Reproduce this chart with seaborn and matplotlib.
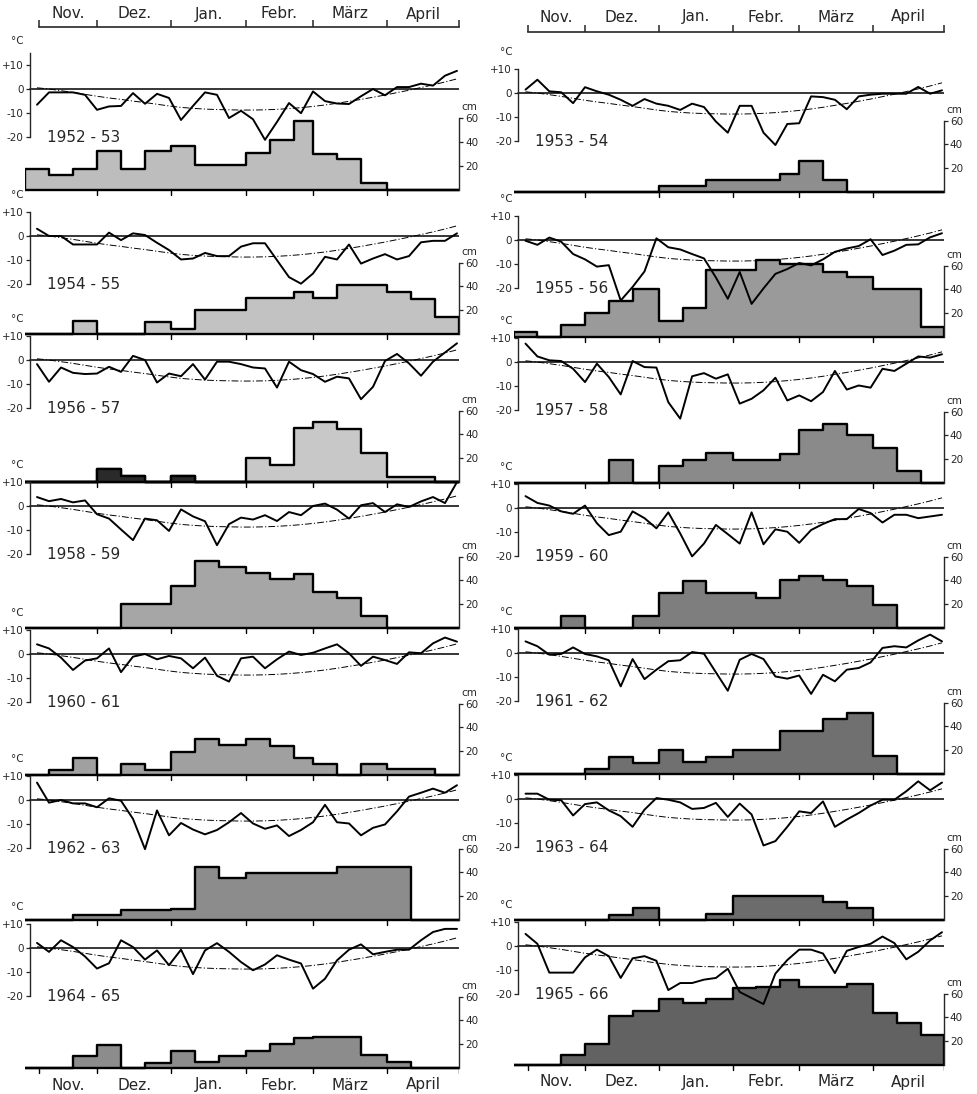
import matplotlib
matplotlib.use("Agg")
import matplotlib.pyplot as plt
import seaborn as sns
import numpy as np

sns.set_style("ticks")
plt.rcParams["font.family"] = ["DejaVu Sans"]

# ---------------------------------------------------------------- data
MONTHS = ["Nov.", "Dez.", "Jan.", "Febr.", "März", "April"]
MONTH_DAYS = [0, 30, 61, 92, 120, 151, 181]          # day 0 = 1 Nov
DEKAD_EDGES = [0, 10, 20, 30, 40, 50, 61, 71, 81, 92, 102, 112,
               120, 130, 140, 151, 161, 171, 181]
PENTAD_DAYS = [5, 10, 15, 20, 25, 30, 35, 40, 45, 50, 55, 60,
               65, 70, 75, 80, 85, 90, 95, 100, 105, 110, 115, 120,
               125, 130, 135, 140, 145, 150, 155, 160, 165, 170, 175, 180]

MEAN_TEMP = [0.5, 0, -0.7, -1.4, -2.2, -3, -3.7, -4.3, -5, -5.6, -6.3, -7,
             -7.6, -8.0, -8.3, -8.5, -8.6, -8.7, -8.7, -8.6, -8.4, -8.1, -7.7, -7.2,
             -6.6, -5.9, -5.1, -4.3, -3.4, -2.5, -1.5, -0.5, 0.6, 1.7, 2.9, 4.2]

T_1952_53 = [-6.5, -1.4, -1.4, -1.4, -2.4, -8.6, -7.2, -7, -1.7, -6.1, -2, -3.7,
             -12.8, -7, -1.4, -2.4, -12, -9, -12.5, -21, -13.6, -5.8, -10, -1,
             -5, -6, -6.2, -3, 0, -2.6, 0.8, 0.8, 2.2, 1.4, 5.5, 7.5]
S_1952_53 = [17, 12.6, 17, 32, 17, 32, 36.7, 21, 21, 31, 41.5, 57.4, 30, 25.5, 5.3, 0, 0, 0]

T_1953_54 = [1.4, 5.5, 0.7, 0.3, -4.2, 2.4, 0.7, -0.7, -2.8, -5.3, -2.5, -4.4,
             -5.3, -7, -4.4, -5.8, -11.8, -16.4, -5.3, -5.3, -16.4, -21.5, -12.8, -12.5,
             -1.4, -1.7, -2.8, -6.7, -1.4, -0.7, -0.3, -0.3, -0.3, 2.5, -0.3, 1.1]
S_1953_54 = [0, 0, 0, 0, 0, 0, 4.9, 4.9, 9.7, 9.7, 9.7, 15, 25.7, 9.7, 0, 0, 0, 0]

T_1954_55 = [3, 0, 0, -3.5, -3.5, -3.5, 1.4, -1.7, 1.1, 0.4, -2.8, -5.8,
             -9.7, -9.3, -7, -8.3, -8.3, -4.4, -3, -3, -10, -17, -19.7, -15.5,
             -8.6, -9.7, -3.5, -11.4, -9.3, -7.5, -9.7, -8.3, -2.6, -2, -2, 1.1]
S_1954_55 = [0, 0, 11, 0, 0, 10, 4.3, 20, 20, 30, 30, 35, 30, 41, 41, 35, 29, 14]

T_1955_56 = [-0.3, -2, 1, -0.7, -5.8, -8, -11, -10.4, -25, -19.4, -13, 0.7,
             -3, -3.9, -5.8, -7.6, -15.5, -24.3, -13.2, -26.4, -20, -14, -12, -9.5,
             -10.5, -8, -4.9, -3.5, -2.5, 0.3, -6.2, -4.4, -2, -1.8, 1.1, 2.8]
S_1955_56 = [4.3, 0, 10, 20, 30, 40.6, 13.7, 24, 56, 56, 65, 61, 61, 55, 50.6, 40.6, 40.6, 8.6]

T_1956_57 = [-1.7, -9.0, -3.1, -5.3, -5.8, -5.6, -2.8, -4.9, 1.7, 0, -9.3, -5.6,
             -6.7, -1.7, -8.1, -0.7, -0.7, -1.7, -3.1, -3.5, -11.4, -0.7, -4.2, -5.8,
             -9.0, -6.9, -7.6, -16.2, -11.1, -0.4, 2.5, -1.4, -6.5, -0.7, 3.1, 6.9]
S_1956_57 = [0, 0, 0, 11, 5, 0, 5, 0, 0, 20.4, 14.5, 45.5, 50.3, 44.7, 24.3, 4.2, 4.2, 0]

T_1957_58 = [7.6, 2.3, 0.7, 0.4, -2.8, -8.3, -0.7, -6.2, -13.4, 0.4, -2.1, -2.3,
             -16.6, -23.4, -5.9, -4.6, -6.9, -5.1, -17.2, -15.2, -11.7, -6.5, -15.9, -13.8,
             -16.2, -12.4, -3.7, -11.4, -9.7, -10.6, -2.8, -3.7, -0.7, 2.3, 1.8, 3.2]
S_1957_58 = [0, 0, 0, 0, 19.3, 0, 14.4, 19.3, 24.9, 19.3, 19.3, 24.3, 44.8, 49.2, 40, 29.8, 9.7, 0]

T_1958_59 = [3.7, 2, 2.9, 1.5, 2.3, -3.4, -5.2, -9.7, -14.1, -5.2, -5.9, -10.3,
             -1.4, -4.3, -6.3, -16.2, -7.5, -4.8, -5.6, -3.8, -6.2, -2.5, -3.8, 0,
             1, -1.5, -5.2, 0.3, 1.2, -2.5, 0.7, -0.4, 1.9, 3.7, 1.2, 9.9]
S_1958_59 = [0, 0, 0, 0, 20, 20, 35.2, 56.6, 51, 46, 41, 45, 30, 24.8, 9.9, 0, 0, 0]

T_1959_60 = [4.9, 2.1, 1, -1.4, -2.4, 1, -6.3, -11.2, -9.8, -1.4, -4.2, -8.4,
             -1.8, -10.5, -20, -14.7, -7, -10.8, -14.7, -1.8, -15, -8.8, -9.8, -14.4,
             -9.1, -6.6, -4.6, -4.6, -0.4, -2.1, -6, -2.8, -2.8, -4.2, -3.5, -2.8]
S_1959_60 = [0, 0, 10.2, 0, 0, 9.7, 29, 39.5, 29.5, 29.5, 24.9, 40, 43.6, 40, 35, 19.3, 0, 0]

T_1960_61 = [4.0, 2.3, -1.5, -6.6, -2.7, -1.8, 2.3, -7.5, -1.1, 0, -2.2, -0.8,
             -1.8, -5.9, -1.5, -9.0, -11.4, -1.8, -1.1, -5.9, -2.2, 1, -0.4, 0.5,
             2.3, 4.0, 0.3, -4.9, -1.1, -2.5, -4.1, 0.7, 0.3, 4.4, 6.8, 5.1]
S_1960_61 = [0, 4.1, 14.4, 0, 9, 4.1, 19.6, 30, 25, 30, 24.5, 14.4, 9.5, 0, 9.5, 4.9, 4.9, 0]

T_1961_62 = [4.8, 2.8, -0.7, -0.4, 2.3, -0.4, -1.4, -3, -13.8, -2.5, -10.8, -6.9,
             -3.4, -3, 0.4, -0.3, -8, -15.6, -2.8, -0.4, -2.5, -9.7, -10.6, -9.3,
             -16.9, -9, -11.7, -6.9, -6.2, -3.9, 2.1, 2.8, 2.3, 5.2, 7.6, 4.8]
S_1961_62 = [0, 0, 0, 4.2, 14.4, 9.4, 20, 9.7, 14.4, 20, 20, 35.8, 35.8, 45.8, 51, 15, 0, 0]

T_1962_63 = [7.2, -1.1, 0, -1.4, -1.4, -3, 0.7, -0.3, -7.8, -20.3, -4.3, -14.6,
             -9.5, -12.2, -14.2, -12.4, -9.2, -5.4, -9.7, -11.9, -10.5, -14.9, -12.4, -9.2,
             -2, -9.2, -9.7, -14.6, -11.5, -10.1, -4.7, 1.4, 3, 4.7, 3, 6.1]
S_1962_63 = [0, 0, 4.2, 4.2, 8.4, 8.4, 8.9, 44.7, 35, 39.7, 39.7, 39.7, 39.7, 44.7, 44.7, 44.7, 0, 0]

T_1963_64 = [2.2, 2.2, -0.3, -0.5, -6.8, -2.1, -1.4, -4.7, -7.1, -11.5, -4.4, 0.4,
             -0.3, -1.4, -4.1, -3.7, -1.6, -7.4, -1.9, -6.4, -19.2, -17.4, -11.5, -5.1,
             -5.8, -1, -11.5, -8.5, -5.8, -2.7, -0.3, -0.3, 3.2, 7.3, 3.6, 6.8]
S_1963_64 = [0, 0, 0, 0, 4.6, 10, 0, 0, 4.9, 20, 20, 20, 20, 14.9, 10.3, 0, 0, 0]

T_1964_65 = [2.1, -1.6, 3.2, 0.4, -3.5, -8.5, -6.3, 3.2, 0.4, -4.8, -1, -7.1,
             -0.7, -10.8, -1, 2, -1.6, -5.8, -9.2, -6.8, -3, -4.8, -6.4, -16.8,
             -12.7, -5.1, -0.7, 1.5, -2.6, -1.6, -0.7, -0.7, 3.2, 6.6, 7.9, 7.9]
S_1964_65 = [0, 0, 10.4, 19.6, 0, 4.6, 14.4, 4.9, 10.4, 14.4, 19.9, 25, 25.9, 25.9, 10.9, 4.9, 0, 0]

T_1965_66 = [5, 0.9, -11, -11, -11, -4.7, -1.5, -4.2, -13.2, -5.1, -4.2, -6.1,
             -18.2, -15.3, -15.3, -13.9, -13.2, -9.4, -19, -21.5, -24, -11.4, -5.8, -1.5,
             -1.5, -3.1, -11.2, -2, -0.4, 0.9, 3.9, 1.2, -5.5, -2.4, 2.3, 5.7]
S_1965_66 = [0, 0, 8.8, 18, 41.4, 45.6, 55.8, 51.7, 55.8, 64.4, 65.5, 71.8, 65.5, 65.5, 68.2, 44, 35, 25.4]

LEFT_LABELS = ["1952 - 53", "1954 - 55", "1956 - 57", "1958 - 59",
               "1960 - 61", "1962 - 63", "1964 - 65"]
RIGHT_LABELS = ["1953 - 54", "1955 - 56", "1957 - 58", "1959 - 60",
                "1961 - 62", "1963 - 64", "1965 - 66"]
LEFT_T = [T_1952_53, T_1954_55, T_1956_57, T_1958_59, T_1960_61, T_1962_63, T_1964_65]
LEFT_S = [S_1952_53, S_1954_55, S_1956_57, S_1958_59, S_1960_61, S_1962_63, S_1964_65]
RIGHT_T = [T_1953_54, T_1955_56, T_1957_58, T_1959_60, T_1961_62, T_1963_64, T_1965_66]
RIGHT_S = [S_1953_54, S_1955_56, S_1957_58, S_1959_60, S_1961_62, S_1963_64, S_1965_66]

# ---------------------------------------------------------------- layout (pixels)
W, H = 978, 1094
TS = 2.42    # px per degree C
SS = 1.19    # px per cm
LEFT_GEOM = dict(x0=25.0, ppd=2.40)
RIGHT_GEOM = dict(x0=513.6, ppd=2.38)
LEFT_T0 = [89, 236, 360, 506, 654, 800, 948]
LEFT_S0 = [189.5, 334, 482, 628, 775, 920, 1068]
RIGHT_T0 = [93, 240, 362, 508, 653, 799, 946]
RIGHT_S0 = [192, 337, 483, 628, 774, 920, 1065]
LEFT_FILL = ["#bdbdbd", "#c2c2c2", "#c8c8c8", "#a6a6a6", "#a0a0a0", "#8c8c8c", "#8c8c8c"]
RIGHT_FILL = ["#8e8e8e", "#9a9a9a", "#8a8a8a", "#7e7e7e", "#707070", "#6c6c6c", "#626262"]
SPINE_DAY = 2.0

fig = plt.figure(figsize=(W / 100, H / 100), dpi=100)
fig.patch.set_facecolor("white")


def rect(x0, x1, ytop, ybot):
    return [x0 / W, 1 - ybot / H, (x1 - x0) / W, (ybot - ytop) / H]


def ftext(xp, yp, s, **kw):
    fig.text(xp / W, 1 - yp / H, s, **kw)


def month_labels(geom, y):
    x0, ppd = geom["x0"], geom["ppd"]
    starts = [6] + MONTH_DAYS[1:6]
    ends = MONTH_DAYS[1:]
    for name, a, b in zip(MONTHS, starts, ends):
        ftext(x0 + (a + b) / 2 * ppd, y, name, ha="center", va="center", fontsize=11)


def top_axis(geom, line_y, labels_y):
    x0, ppd = geom["x0"], geom["ppd"]
    x1 = x0 + 181 * ppd
    ax = fig.add_axes(rect(x0, x1, line_y - 10, line_y))
    ax.patch.set_visible(False)
    ax.set_xlim(0, 181)
    ax.set_ylim(0, 1)
    for sp in ["left", "right", "top"]:
        ax.spines[sp].set_visible(False)
    ax.spines["bottom"].set_linewidth(1.2)
    ax.spines["bottom"].set_bounds(6, 181)
    ax.set_yticks([])
    ax.set_xticks([6] + MONTH_DAYS[1:])
    ax.set_xticklabels([])
    ax.tick_params(axis="x", direction="in", length=5, width=1.1)
    month_labels(geom, labels_y)


def panel(geom, T0, S0, label, temps, snow, fill, first, last, dark_idx=None):
    x0, ppd = geom["x0"], geom["ppd"]
    x1 = x0 + 181 * ppd
    centers = [(a + b) / 2 for a, b in zip(DEKAD_EDGES[:-1], DEKAD_EDGES[1:])]

    # ---- snow depth (step histogram, weighted by depth)
    axs = fig.add_axes(rect(x0, x1, S0 - 76 * SS, S0 + 8))
    axs.set_zorder(1)
    axs.patch.set_visible(False)
    sns.histplot(x=centers, weights=snow, bins=DEKAD_EDGES, element="step",
                 fill=True, facecolor=fill, edgecolor="black", linewidth=1.7,
                 alpha=1, ax=axs)
    if dark_idx is not None:
        dark = [v if i in dark_idx else 0 for i, v in enumerate(snow)]
        sns.histplot(x=centers, weights=dark, bins=DEKAD_EDGES, element="step",
                     fill=True, facecolor="#2a2a2a", edgecolor="black", linewidth=1.7,
                     alpha=1, ax=axs)
    axs.set_xlim(0, 181)
    # axes extends 8 px below the baseline; put y=0 at the baseline
    axs.set_ylim(-8 / SS, 76)
    axs.set_xlabel("")
    axs.set_ylabel("")
    for sp in ["top", "left", "bottom"]:
        axs.spines[sp].set_visible(False)
    axs.spines["right"].set_bounds(0, 60)
    axs.spines["right"].set_linewidth(1.0)
    axs.yaxis.tick_right()
    axs.set_yticks([20, 40, 60])
    axs.set_yticklabels(["20", "40", "60"])
    axs.tick_params(axis="y", direction="out", length=3, width=0.9, labelsize=7.5, pad=1,
                    right=True, left=False)
    axs.set_xticks([])
    # baseline with month ticks hanging below it
    axs.plot([6, 181], [0, 0], color="black", lw=1.2, solid_capstyle="butt")
    tick_days = ([6] + MONTH_DAYS[1:]) if last else MONTH_DAYS[1:6]
    tick_len = 5 / SS
    for d in tick_days:
        axs.plot([d, d], [0, -tick_len], color="black", lw=1.0)
    ftext(x1 + 2, S0 - 60 * SS - 11, "cm", fontsize=7.5, ha="left", va="center")

    # ---- temperature (pentad means) with long-term mean curve
    axt = fig.add_axes(rect(x0, x1, T0 - 16 * TS, T0 + 28 * TS))
    axt.set_zorder(2)
    axt.patch.set_visible(False)
    axt.plot([SPINE_DAY, 181], [0, 0], color="black", lw=1.1)
    sns.lineplot(x=PENTAD_DAYS, y=MEAN_TEMP, color="black", lw=0.7,
                 linestyle=(0, (7, 2.2, 1.2, 2.2)), ax=axt)
    sns.lineplot(x=PENTAD_DAYS, y=temps, color="black", lw=1.4, ax=axt)
    axt.set_xlim(0, 181)
    axt.set_ylim(-28, 16)
    axt.set_xlabel("")
    axt.set_ylabel("")
    for sp in ["top", "right", "bottom"]:
        axt.spines[sp].set_visible(False)
    tall = first and geom is LEFT_GEOM
    axt.spines["left"].set_position(("data", SPINE_DAY))
    axt.spines["left"].set_bounds(-20, 15 if tall else 10)
    axt.spines["left"].set_linewidth(1.0)
    axt.set_xticks([])
    axt.set_yticks([-20, -10, 0, 10])
    axt.set_yticklabels(["-20", "-10", "0", "+10"])
    axt.tick_params(axis="y", direction="out", length=3, width=0.9, labelsize=7.5, pad=1.5)
    sx = x0 + SPINE_DAY * ppd
    ftext(sx - 12, T0 - 10 * TS - (24 if tall else 17), "°C", fontsize=7.5,
          ha="center", va="center")
    ftext(sx + 17, T0 + 20 * TS, label, fontsize=11, ha="left", va="center")


for i in range(7):
    panel(LEFT_GEOM, LEFT_T0[i], LEFT_S0[i], LEFT_LABELS[i], LEFT_T[i], LEFT_S[i],
          LEFT_FILL[i], i == 0, i == 6, dark_idx=[3, 4, 6] if i == 2 else None)
    panel(RIGHT_GEOM, RIGHT_T0[i], RIGHT_S0[i], RIGHT_LABELS[i], RIGHT_T[i], RIGHT_S[i],
          RIGHT_FILL[i], i == 0, i == 6)

top_axis(LEFT_GEOM, 27, 14)
top_axis(RIGHT_GEOM, 32, 17)
month_labels(LEFT_GEOM, LEFT_S0[6] + 17)
month_labels(RIGHT_GEOM, RIGHT_S0[6] + 17)

fig.savefig("out.png", dpi=100)
